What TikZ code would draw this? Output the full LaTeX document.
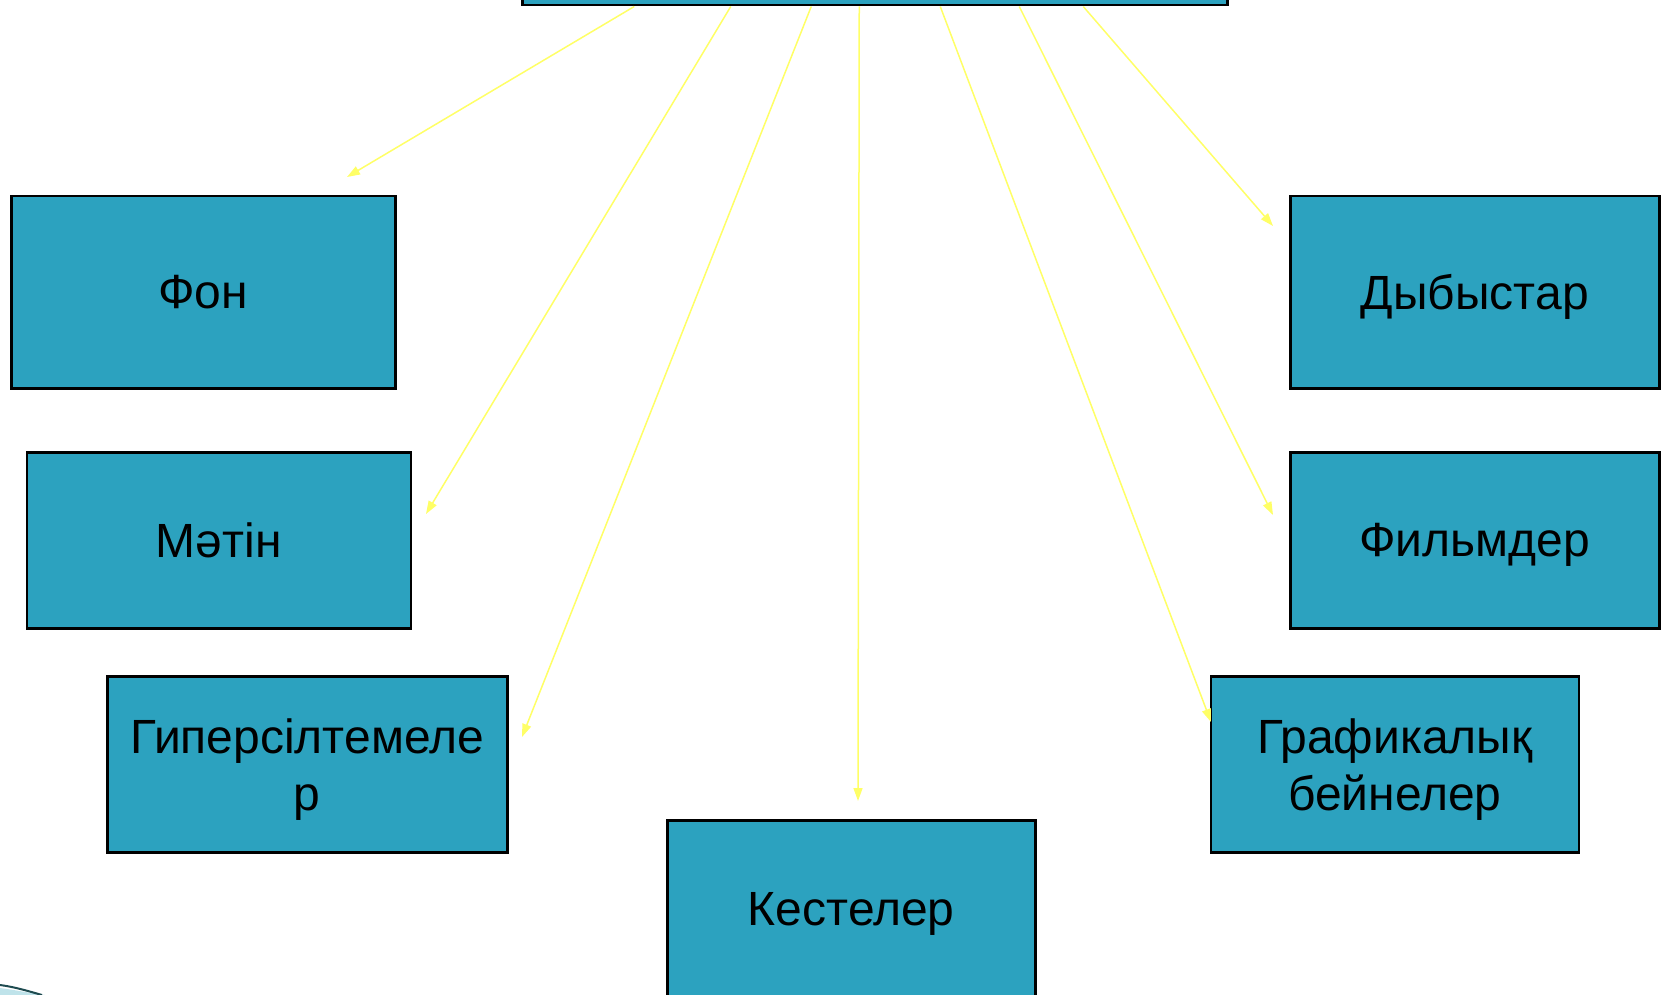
\documentclass[tikz,border=0pt]{standalone}
\usepackage{fontspec}
\setmainfont{Liberation Sans}
\usetikzlibrary{arrows.meta}
\definecolor{boxfill}{HTML}{2CA2BF}
\definecolor{arrowyellow}{HTML}{FFFF66}
\definecolor{swooshdark}{HTML}{1E4B50}
\definecolor{swooshlight}{HTML}{BFE3EA}
\tikzset{
  box/.style={draw=black, line width=2.5pt, fill=boxfill, anchor=north west,
    inner sep=0pt, align=center, text depth=0pt, font=\fontsize{48}{57}\selectfont},
  link/.style={draw=arrowyellow, line width=1.5pt,
    -{Triangle[length=13pt,width=9pt]}}
}
\begin{document}
\begin{tikzpicture}[x=1pt,y=-1pt]
\useasboundingbox (0,0) rectangle (1665,995);
\clip (0,0) rectangle (1665,995);
% top box (cut off by the top edge)
\node[box, minimum width=705pt, minimum height=40pt] (top) at (521,-36) {};
% boxes
\node[box, minimum width=384pt, minimum height=192pt] (fon) at (10,195) {Фон};
\node[box, minimum width=384pt, minimum height=176pt] (matin) at (25.5,451) {Мәтін};
\node[box, minimum width=400pt, minimum height=176pt] (giper) at (106,675) {Гиперсілтемеле\\р};
\node[box, minimum width=368pt, minimum height=178pt] (kest) at (666,819) {Кестелер};
\node[box, minimum width=368pt, minimum height=176pt] (graf) at (1209.5,675) {Графикалық\\бейнелер};
\node[box, minimum width=369pt, minimum height=176pt] (film) at (1289,451) {Фильмдер};
\node[box, minimum width=369pt, minimum height=192pt] (dyb) at (1289,195) {Дыбыстар};
% arrow end points
\coordinate (e1) at (347,177);
\coordinate (e2) at (426,514);
\coordinate (e3) at (522,737);
\coordinate (e4) at (858,801);
\coordinate (e5) at (1211,722);
\coordinate (e6) at (1273,515);
\coordinate (e7) at (1273,226);
% arrows
\draw[link] ([xshift=-240.5pt]top.south) -- (e1);
\draw[link] ([xshift=-144pt]top.south) -- (e2);
\draw[link] ([xshift=-63.5pt]top.south) -- (e3);
\draw[link] ([xshift=-15.5pt]top.south) -- (e4);
\draw[link] ([xshift=65.5pt]top.south) -- (e5);
\draw[link] ([xshift=144.5pt]top.south) -- (e6);
\draw[link] ([xshift=208.5pt]top.south) -- (e7);
% decorative swoosh bottom-left
\fill[swooshlight] (0,988) .. controls (15,990) and (30,993) .. (45,995) -- (0,995) -- cycle;
\draw[swooshdark, line width=2pt] (0,985) .. controls (15,987) and (28,991) .. (42,995);
\end{tikzpicture}
\end{document}
